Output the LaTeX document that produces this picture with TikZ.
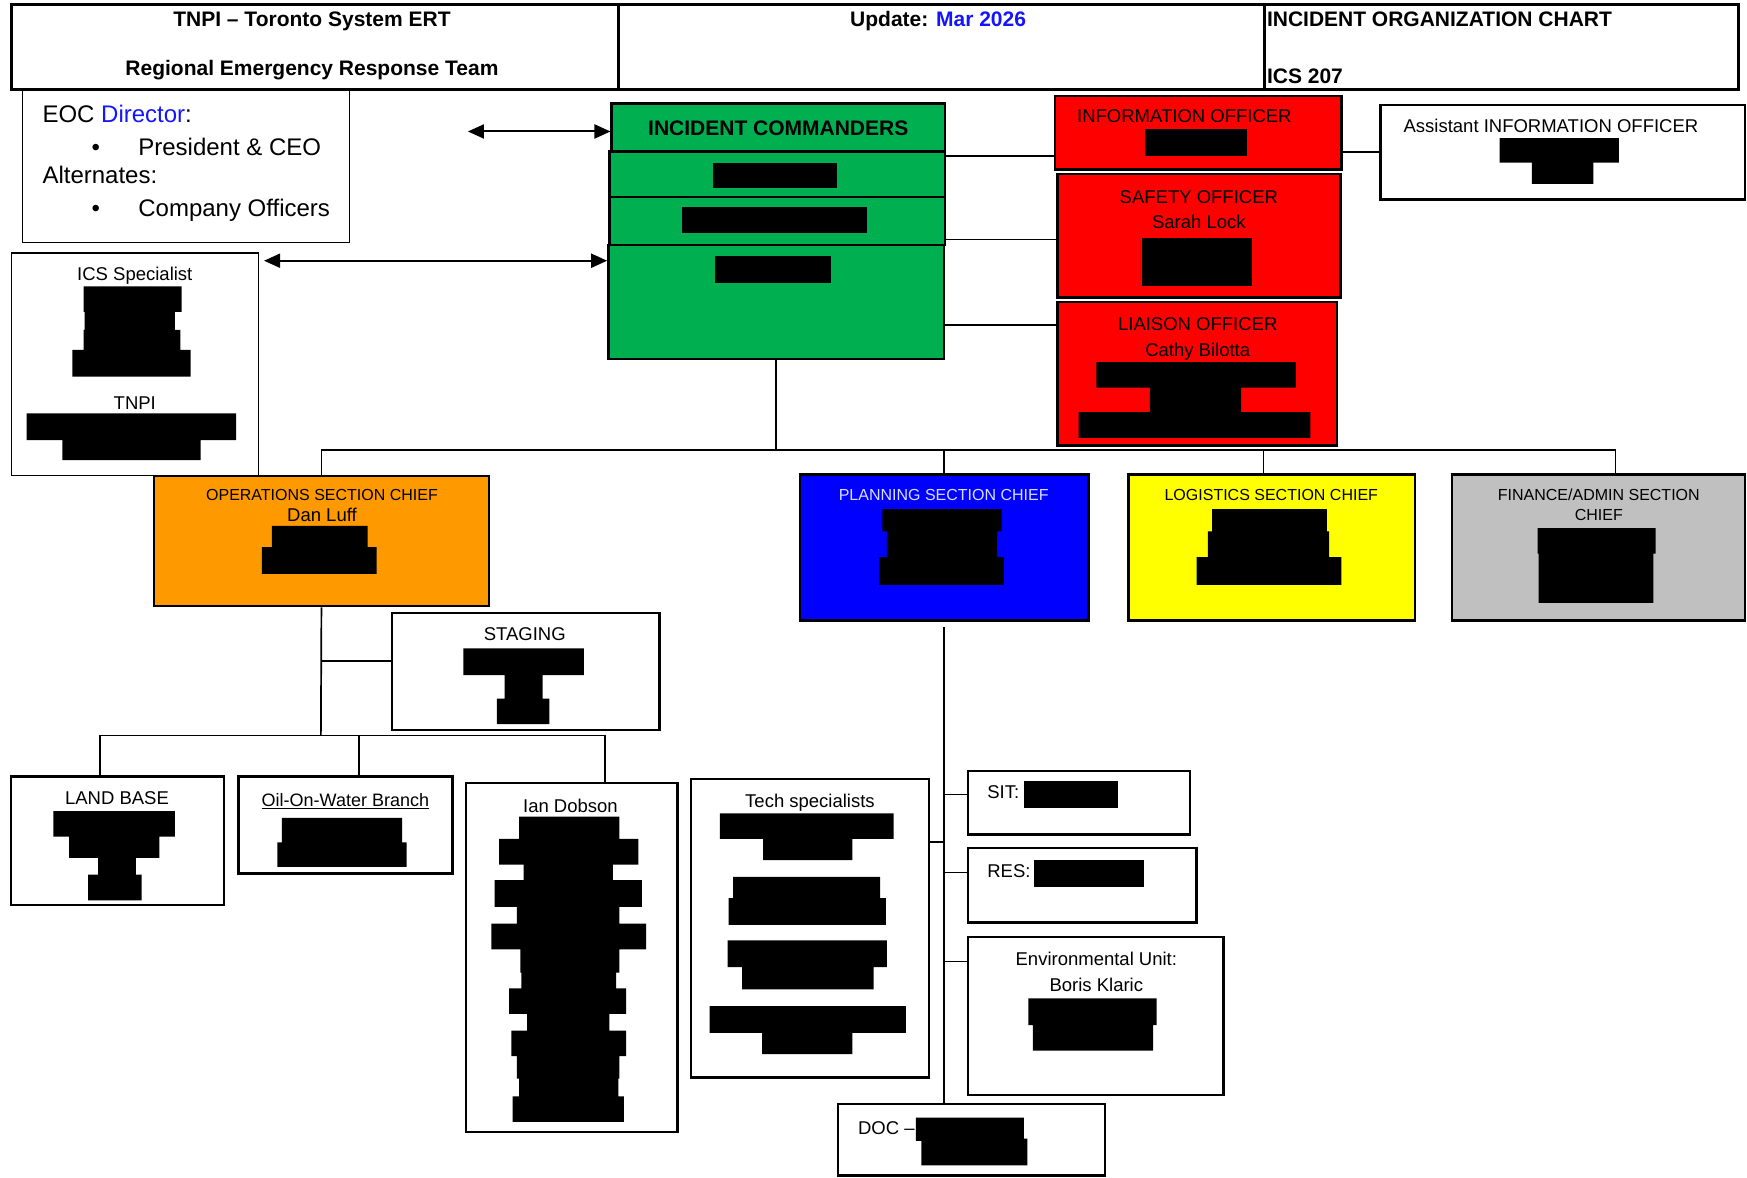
\documentclass[tikz,border=0pt]{standalone}
\usepackage{fontspec}
\setmainfont{Liberation Sans}
\usetikzlibrary{arrows.meta, positioning, fit}
\definecolor{icsGreen}{HTML}{00B050}
\definecolor{icsRed}{HTML}{FF0000}
\definecolor{icsOrange}{HTML}{FF9900}
\definecolor{icsBlue}{HTML}{0000FF}
\definecolor{icsYellow}{HTML}{FFFF00}
\definecolor{icsGray}{HTML}{C0C0C0}
\definecolor{paleText}{RGB}{215,222,255}
\definecolor{linkBlue}{HTML}{1414FF}
\tikzset{
  box/.style={draw=black, line width=2.4pt, inner sep=0pt},
  thinbox/.style={draw=black, line width=1.2pt, inner sep=0pt},
  hdrbox/.style={draw=black, line width=3pt, inner sep=0pt},
  link/.style={draw=black, line width=1.7pt},
  twoway/.style={line width=2pt, {Triangle[length=16pt,width=14pt]}-{Triangle[length=16pt,width=14pt]}},
  redact/.style={fill=black},
  hdrtxt/.style={font=\fontsize{21}{25}\selectfont\bfseries, inner sep=0pt, text height=15pt, text depth=0pt},
  eoctxt/.style={font=\fontsize{24}{28}\selectfont, inner sep=0pt, text height=17pt, text depth=0pt},
  lbl/.style={font=\fontsize{18.5}{22}\selectfont, inner sep=0pt, text height=13pt, text depth=0pt},
  chief/.style={font=\fontsize{16}{19}\selectfont, inner sep=0pt, text height=11.5pt, text depth=0pt}
}

\begin{document}
\begin{tikzpicture}[x=1.1142pt, y=-1.1142pt]
  \useasboundingbox (0,0) rectangle (1568,1057);
  % --- header ---
  \node[hdrbox, fit={(10,4) (555,80)}] (hdrLeft) {};
  \node[hdrbox, fit={(555,4) (1135,80)}] (hdrMid) {};
  \node[hdrbox, fit={(1135,4) (1560,80)}] (hdrRight) {};
  \node[hdrtxt] (hdrTitle) at (280,17) {TNPI – Toronto System ERT};
  \node[hdrtxt] (hdrTeam) at (280,61) {Regional Emergency Response Team};
  \node[hdrtxt] (hdrUpdate) at (842,17) {Update: \textcolor{linkBlue}{Mar 2026}};
  \node[hdrtxt, anchor=west] (hdrChart) at (1137,17) {INCIDENT ORGANIZATION CHART};
  \node[hdrtxt, anchor=west] (hdrIcs) at (1137,68) {ICS 207};

  % --- EOC director ---
  \node[thinbox, fit={(20,81) (314,218)}] (eoc) {};
  \node[eoctxt, anchor=west] (eocDir) at (38,102) {EOC \textcolor{linkBlue}{Director}:};
  \node[eoctxt] (eocDotA) at (86,132) {•};
  \node[eoctxt, anchor=west] (eocCeo) at (124,132) {President \& CEO};
  \node[eoctxt, anchor=west] (eocAlt) at (38,157) {Alternates:};
  \node[eoctxt] (eocDotB) at (86,187) {•};
  \node[eoctxt, anchor=west] (eocOff) at (124,187) {Company Officers};

  % --- ICS specialist ---
  \node[thinbox, fit={(10,227) (232,427)}] (icsSpec) {};
  \node[lbl] (icsSpecT) at (121,246) {ICS Specialist};
  \fill[redact] (75,257) rectangle (163,280) (76,280) rectangle (157,296)
    (75,296) rectangle (162,314) (65,314) rectangle (171,338);
  \node[lbl] (icsTnpi) at (121,362) {TNPI};
  \fill[redact] (24,371) rectangle (212,395) (56,395) rectangle (180,413);

  % --- incident commanders ---
  \node[box, fill=icsGreen, fit={(549,93) (848,136)}] (icHead) {};
  \node[box, fill=icsGreen, fit={(547,136) (848,177)}] (icRowA) {};
  \node[box, fill=icsGreen, fit={(547,177) (848,220)}] (icRowB) {};
  \node[box, fill=icsGreen, fit={(546,220) (847,322)}] (icBody) {};
  \node[hdrtxt] (icTitle) at (icHead) {INCIDENT COMMANDERS};
  \fill[redact] (640,146) rectangle (751,169);
  \fill[redact] (612,186) rectangle (778,209);
  \fill[redact] (642,230) rectangle (746,254);

  \coordinate (eocArrow) at (420,118);
  \coordinate (icsArrow) at (237,234);
  \draw[link, twoway] (eocArrow) -- (eocArrow -| icHead.west);
  \draw[link, twoway] (icsArrow) -- (icsArrow -| icBody.west);

  % --- command staff ---
  \node[box, fill=icsRed, fit={(947,86) (1204,152)}] (info) {};
  \node[lbl] (infoT) at (1063,104) {INFORMATION OFFICER};
  \fill[redact] (1028,116) rectangle (1119,140);
  \node[box, fill=icsRed, fit={(949,156) (1203,267)}] (safety) {};
  \node[lbl] (safetyT) at (1076,177) {SAFETY OFFICER};
  \node[lbl] (safetyN) at (1076,199) {Sarah Lock};
  \fill[redact] (1025,214) rectangle (1124,257);
  \node[box, fill=icsRed, fit={(949,271) (1200,400)}] (liaison) {};
  \node[lbl] (liaisonT) at (1075,291) {LIAISON OFFICER};
  \node[lbl] (liaisonN) at (1075,314) {Cathy Bilotta};
  \fill[redact] (984,325) rectangle (1163,348) (1032,348) rectangle (1114,370)
    (968,370) rectangle (1176,393);
  \node[box, fit={(1239,94) (1566,179)}] (asstInfo) {};
  \node[lbl] (asstInfoT) at (1392,113) {Assistant INFORMATION OFFICER};
  \fill[redact] (1346,124) rectangle (1453,146) (1375,146) rectangle (1430,165);

  \coordinate (infoJoin) at (848,140);
  \coordinate (safetyJoin) at (848,215);
  \coordinate (liaisonJoin) at (847,292);
  \draw[link] (infoJoin) -- (infoJoin -| info.west);
  \draw[link] (safetyJoin) -- (safetyJoin -| safety.west);
  \draw[link] (liaisonJoin) -- (liaisonJoin -| liaison.west);
  \draw[link] (asstInfo.west) -- (asstInfo.west -| info.east);

  % --- section chiefs ---
  \node[box, fill=icsOrange, fit={(138,427) (439,544)}] (opsChief) {};
  \node[chief] (opsChiefT) at (289,444) {OPERATIONS SECTION CHIEF};
  \node[lbl] (opsChiefN) at (289,462) {Dan Luff};
  \fill[redact] (244,472) rectangle (330,491) (235,491) rectangle (338,515);
  \node[box, fill=icsBlue, fit={(718,426) (977,557)}] (planChief) {};
  \node[chief, text=paleText] (planChiefT) at (847,444) {PLANNING SECTION CHIEF};
  \fill[redact] (792,457) rectangle (899,477) (796,477) rectangle (895,500)
    (789,500) rectangle (901,525);
  \node[box, fill=icsYellow, fit={(1013,426) (1270,557)}] (logiChief) {};
  \node[chief] (logiChiefT) at (1141,444) {LOGISTICS SECTION CHIEF};
  \fill[redact] (1088,457) rectangle (1191,477) (1084,477) rectangle (1193,500)
    (1074,500) rectangle (1204,525);
  \node[box, fill=icsGray, fit={(1303,426) (1566,557)}] (finChief) {};
  \node[chief] (finChiefT) at (1435,444) {FINANCE/ADMIN SECTION};
  \node[chief] (finChiefU) at (1435,462) {CHIEF};
  \fill[redact] (1380,474) rectangle (1486,497) (1381,497) rectangle (1484,541);

  \coordinate (busRight) at (1450,404);
  \coordinate (logiDrop) at (1134,404);
  \draw[link] (icBody.south) -- (icBody.south |- busRight);
  \draw[link] (opsChief.north) |- (busRight) -- (busRight |- finChief.north);
  \draw[link] (planChief.north) -- (planChief.north |- busRight);
  \draw[link] (logiDrop) -- (logiDrop |- logiChief.north);

  % --- operations ---
  \node[box, fit={(352,550) (592,655)}] (staging) {};
  \node[lbl] (stagingT) at (471,569) {STAGING};
  \fill[redact] (416,582) rectangle (524,606) (453,606) rectangle (487,627)
    (446,627) rectangle (493,650);
  \node[box, fit={(10,697) (201,812)}] (landBase) {};
  \node[lbl] (landBaseT) at (105,716) {LAND BASE};
  \fill[redact] (48,728) rectangle (157,751) (62,751) rectangle (143,770)
    (88,770) rectangle (122,785) (79,785) rectangle (127,808);
  \node[box, fit={(214,697) (406,784)}] (oilWater) {};
  \node[lbl, font=\fontsize{18}{22}\selectfont] (oilWaterT) at (310,718) {\underline{Oil-On-Water Branch}};
  \fill[redact] (253,734) rectangle (361,756) (249,756) rectangle (365,778);
  \node[box, fit={(418,703) (608,1016)}] (ianDobson) {};
  \node[lbl] (ianDobsonT) at (512,723) {Ian Dobson};
  \fill[redact] (466,733) rectangle (556,753) (448,753) rectangle (573,776)
    (470,776) rectangle (550,790) (444,790) rectangle (576,814)
    (464,814) rectangle (556,829) (441,829) rectangle (580,852)
    (467,852) rectangle (556,873) (468,873) rectangle (553,887)
    (457,887) rectangle (562,910) (473,910) rectangle (547,925)
    (459,925) rectangle (562,948) (464,948) rectangle (556,968)
    (466,968) rectangle (555,984) (460,984) rectangle (560,1007);

  \coordinate (opsBus) at (288,660);
  \coordinate (stagingJoin) at (289,593);
  \coordinate (landDrop) at (90,660);
  \coordinate (oilDrop) at (322,660);
  \coordinate (ianDrop) at (543,660);
  \draw[link] (opsChief.south) -- (opsBus);
  \draw[link] (stagingJoin) -- (stagingJoin -| staging.west);
  \draw[link] (landBase.north -| landDrop) -- (landDrop) -- (ianDrop) -- (ianDrop |- ianDobson.north);
  \draw[link] (oilDrop) -- (oilDrop |- oilWater.north);

  % --- planning ---
  \node[box, fit={(620,699) (834,967)}] (techSpec) {};
  \node[lbl] (techSpecT) at (727,719) {Tech specialists};
  \fill[redact] (646,730) rectangle (802,753) (685,753) rectangle (765,772)
    (658,787) rectangle (790,806) (654,806) rectangle (795,830)
    (653,844) rectangle (796,868) (666,868) rectangle (784,888)
    (637,903) rectangle (813,927) (684,927) rectangle (765,946);
  \node[box, fit={(869,692) (1068,749)}] (sitUnit) {};
  \node[lbl, anchor=west] (sitUnitT) at (886,711) {SIT:};
  \fill[redact] (919,701) rectangle (1003,725);
  \node[box, fit={(869,761) (1074,828)}] (resUnit) {};
  \node[lbl, anchor=west] (resUnitT) at (886,782) {RES:};
  \fill[redact] (928,772) rectangle (1027,796);
  \node[box, fit={(869,841) (1098,983)}] (envUnit) {};
  \node[lbl] (envUnitT) at (984,861) {Environmental Unit:};
  \node[lbl] (envUnitN) at (984,884) {Boris Klaric};
  \fill[redact] (923,896) rectangle (1038,920) (927,920) rectangle (1035,943);
  \node[box, fit={(752,991) (992,1055)}] (docUnit) {};
  \node[lbl, anchor=west] (docUnitT) at (770,1012) {DOC –};
  \fill[redact] (822,1003) rectangle (919,1024) (827,1022) rectangle (922,1046);

  \coordinate (planStem) at (847,563);
  \coordinate (sitJoin) at (847,713);
  \coordinate (techJoin) at (847,756);
  \coordinate (resJoin) at (847,783);
  \coordinate (envJoin) at (847,863);
  \draw[link] (planStem) -- (planStem |- docUnit.north);
  \draw[link] (sitJoin) -- (sitJoin -| sitUnit.west);
  \draw[link] (techJoin) -- (techJoin -| techSpec.east);
  \draw[link] (resJoin) -- (resJoin -| resUnit.west);
  \draw[link] (envJoin) -- (envJoin -| envUnit.west);
\end{tikzpicture}
\end{document}
